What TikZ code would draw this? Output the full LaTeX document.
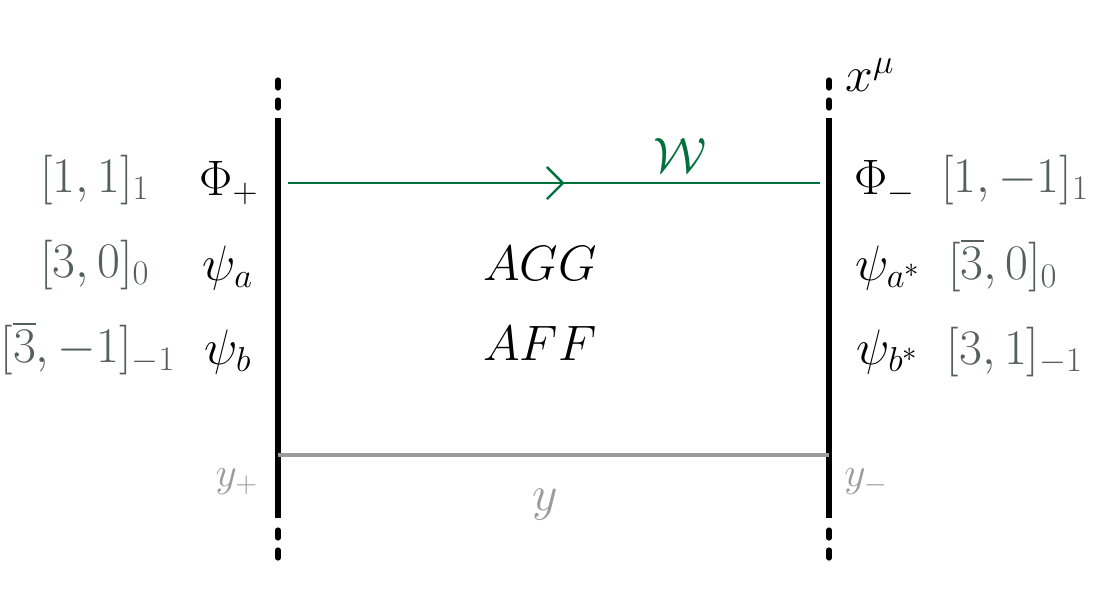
\documentclass[tikz,border=0pt]{standalone}
\usepackage{amsmath,amssymb}
\usetikzlibrary{arrows.meta,decorations.markings}
\definecolor{wgreen}{RGB}{0,112,60}
\definecolor{qgray}{RGB}{85,95,95}
\definecolor{lgray}{RGB}{155,155,155}
\tikzset{
  brane/.style={line width=2.6pt},
  branedot/.style={line width=2.6pt,line cap=round,dash pattern=on 4pt off 6pt},
  field/.style={font=\fontsize{27}{32}\selectfont},
  charge/.style={text=qgray,font=\fontsize{25}{30}\selectfont},
}
\begin{document}
\begin{tikzpicture}[x=0.5pt,y=-0.5pt]
\useasboundingbox (0,0) rectangle (1104,602);

% branes
\coordinate (lt) at (278,118);
\coordinate (lb) at (278,518);
\coordinate (rt) at (829,118);
\coordinate (rb) at (829,518);
\draw[brane] (lt) -- (lb);
\draw[brane] (rt) -- (rb);
\draw[branedot] (278,80) -- (lt);
\draw[branedot] (278,530) -- (278,560);
\draw[branedot] (829,80) -- (rt);
\draw[branedot] (829,530) -- (829,560);

% bulk
\coordinate (wl) at (288,183);
\coordinate (wr) at (820,183);
\draw[wgreen,line width=1.3pt,decoration={markings,mark=at position 0.52 with {\arrow{Straight Barb[length=8pt,width=16pt,line width=1.2pt]}}},postaction={decorate}] (wl) -- (wr);
\node[wgreen,field] (W) at (680,155) {$\mathcal{W}$};
\coordinate (gl) at (278,455);
\coordinate (gr) at (829,455);
\draw[lgray,line width=2.4pt] (gl) -- (gr);

% text
\node[field] (xmu) at (870,75) {$x^{\mu}$};
\node[field] (agg) at (540,263) {$AGG$};
\node[field] (aff) at (540,343) {$AFF$};
\node[lgray,field] (y) at (545,505) {$y$};
\node[lgray,font=\fontsize{21}{24}\selectfont] (yp) at (237,482) {$y_+$};
\node[lgray,font=\fontsize{21}{24}\selectfont] (ym) at (866,482) {$y_-$};

\node[field] (Pp) at (229,183) {$\Phi_+$};
\node[field] (pa) at (228,268) {$\psi_a$};
\node[field] (pb) at (228,352) {$\psi_b$};
\node[field] (Pm) at (885,183) {$\Phi_-$};
\node[field] (pas) at (888,268) {$\psi_{a^*}$};
\node[field] (pbs) at (888,352) {$\psi_{b^*}$};

\node[charge] (c1) at (95,180) {$[1,1]_1$};
\node[charge] (c2) at (95,265) {$[3,0]_0$};
\node[charge] (c3) at (88,348) {$[\overline{3},-1]_{-1}$};
\node[charge] (c4) at (1015,180) {$[1,-1]_1$};
\node[charge] (c5) at (1003,265) {$[\overline{3},0]_0$};
\node[charge] (c6) at (1015,352) {$[3,1]_{-1}$};
\end{tikzpicture}
\end{document}
